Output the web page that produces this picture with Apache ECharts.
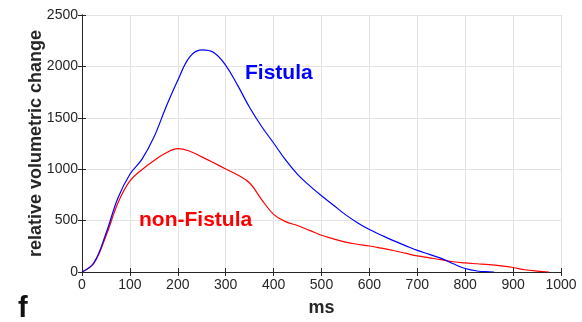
<!DOCTYPE html>
<html><head><meta charset="utf-8">
<script src="https://cdn.jsdelivr.net/npm/echarts@6/dist/echarts.min.js"></script>
<style>html,body{margin:0;padding:0;background:#fff}#c{width:582px;height:322px}</style>
</head><body><div id="c"></div>
<script>
var fistulaMs  = [0, 25, 50, 75, 100, 125, 150, 175, 200, 225, 250, 275, 300, 325, 350, 375, 400, 425, 450, 475, 500, 525, 550, 575, 600, 625, 650, 675, 700, 725, 750, 775, 800, 825, 850, 860];
var fistulaVal = [0, 92, 375, 720, 951, 1095, 1310, 1600, 1865, 2093, 2160, 2135, 2010, 1815, 1600, 1415, 1255, 1090, 950, 840, 741, 650, 558, 480, 413, 358, 305, 257, 210, 172, 132, 80, 34, 10, 2, 0];
var nonMs  = [0, 25, 50, 75, 100, 125, 150, 175, 200, 225, 250, 275, 300, 325, 350, 375, 400, 425, 450, 475, 500, 525, 550, 575, 600, 625, 650, 675, 700, 725, 750, 775, 800, 825, 850, 875, 900, 925, 950, 975];
var nonVal = [0, 85, 350, 672, 886, 995, 1082, 1158, 1200, 1175, 1120, 1062, 1002, 943, 866, 705, 561, 490, 452, 405, 357, 322, 290, 270, 253, 232, 209, 183, 156, 138, 120, 100, 88, 80, 72, 60, 44, 22, 9, 0];
var xTicks = [0, 100, 200, 300, 400, 500, 600, 700, 800, 900, 1000];
var yTicks = [0, 500, 1000, 1500, 2000, 2500];

function pairs(xs, ys){ return xs.map(function(x,i){ return [x, ys[i]]; }); }
var chart = echarts.init(document.getElementById('c'));
var font = 'Liberation Sans, Arial, sans-serif';
var axisCol = '#262626';
chart.setOption({
  animation: false,
  grid: {left: 82, right: 21, top: 15, bottom: 48.5},
  xAxis: [{
    type: 'value', min: xTicks[0], max: xTicks[xTicks.length-1], interval: 100,
    name: 'ms', nameLocation: 'middle', nameGap: 27, nameMoveOverlap: false,
    nameTextStyle: {fontFamily: font, fontSize: 18, fontWeight: 'bold', color: axisCol},
    axisLine: {show: true, lineStyle: {color: axisCol, width: 1}},
    axisTick: {show: true, inside: true, length: 4, lineStyle: {color: axisCol}},
    axisLabel: {fontFamily: font, fontSize: 14, color: axisCol, margin: 6, formatter: function(v){return String(v);}},
    splitLine: {show: true, lineStyle: {color: '#e3e3e3', width: 1}}
  },{
    type: 'value', position: 'top', min: 0, max: 1000, interval: 100,
    axisLine: {show: true, lineStyle: {color: axisCol, width: 1}},
    axisTick: {show: true, inside: true, length: 4, lineStyle: {color: axisCol}},
    axisLabel: {show: false}, splitLine: {show: false}
  }],
  yAxis: [{
    type: 'value', min: yTicks[0], max: yTicks[yTicks.length-1], interval: 500,
    name: 'relative volumetric change', nameLocation: 'middle', nameGap: 37, nameMoveOverlap: false,
    nameTextStyle: {fontFamily: font, fontSize: 18, fontWeight: 'bold', color: axisCol},
    axisLine: {show: true, lineStyle: {color: axisCol, width: 1}},
    axisTick: {show: true, inside: true, length: 4, lineStyle: {color: axisCol}},
    axisLabel: {fontFamily: font, fontSize: 14, color: axisCol, margin: 4, formatter: function(v){return String(v);}},
    splitLine: {show: true, lineStyle: {color: '#e3e3e3', width: 1}}
  },{
    type: 'value', position: 'right', min: 0, max: 2500, interval: 500,
    axisLine: {show: true, lineStyle: {color: axisCol, width: 1}},
    axisTick: {show: true, inside: true, length: 4, lineStyle: {color: axisCol}},
    axisLabel: {show: false}, splitLine: {show: false}
  }],
  series: [{
    type: 'line', name: 'non-Fistula', data: pairs(nonMs, nonVal), smooth: 0.4,
    showSymbol: false, lineStyle: {color: '#ff0000', width: 1.2}, z: 3
  },{
    type: 'line', name: 'Fistula', data: pairs(fistulaMs, fistulaVal), smooth: 0.4,
    showSymbol: false, lineStyle: {color: '#0000ff', width: 1.2}, z: 4
  }],
  graphic: [
    {type: 'text', z: 100, left: 245, top: 63, style: {text: 'Fistula', fill: '#0000ff', font: 'bold 21px ' + font}},
    {type: 'text', z: 100, left: 139, top: 210, style: {text: 'non-Fistula', fill: '#ff0000', font: 'bold 21px ' + font}},
    {type: 'text', z: 100, left: 18, top: 294, style: {text: 'f', fill: '#111', font: 'bold 29px ' + font}}
  ]
});
</script></body></html>
